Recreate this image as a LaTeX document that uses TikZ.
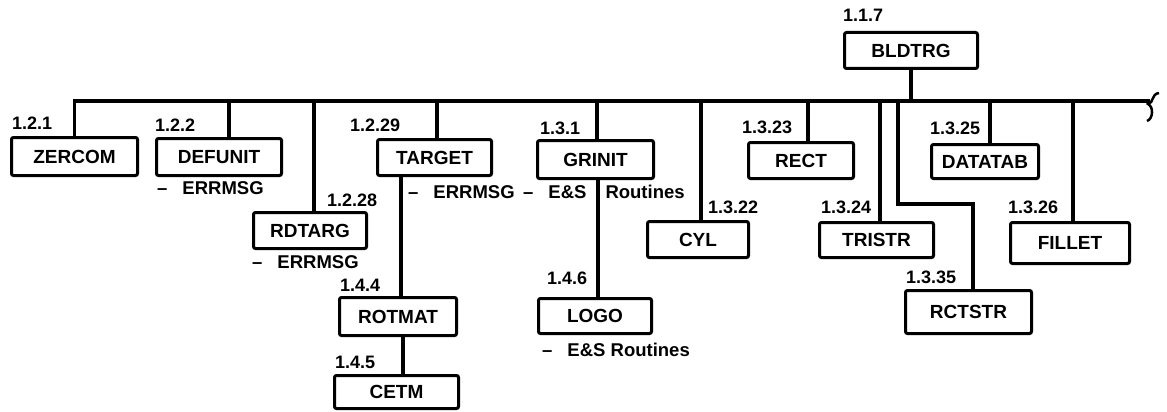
\documentclass[tikz,border=0pt]{standalone}
\usepackage{fontspec}
\setmainfont{Liberation Sans}
\begin{document}
\begin{tikzpicture}[x=1pt,y=-1pt,
  every node/.style={inner sep=0pt},
  box/.style={draw, line width=3pt, rounded corners=2pt, font=\fontsize{19}{21}\selectfont\bfseries},
  num/.style={anchor=west, font=\fontsize{18}{20}\selectfont\bfseries},
  note/.style={anchor=west, font=\fontsize{18.5}{20}\selectfont\bfseries},
  wire/.style={line width=3.2pt}]
\useasboundingbox (0,0) rectangle (1167,412);
% boxes
\node[box, minimum width=133pt, minimum height=36pt] (bldtrg) at (911,50.5) {BLDTRG};
\node[box, minimum width=126pt, minimum height=38pt] (zercom) at (74.5,156.5) {ZERCOM};
\node[box, minimum width=125pt, minimum height=37pt] (defunit) at (219,157) {DEFUNIT};
\node[box, minimum width=113pt, minimum height=36pt] (rdtarg) at (310,230.5) {RDTARG};
\node[box, minimum width=114pt, minimum height=36pt] (target) at (434.5,157.5) {TARGET};
\node[box, minimum width=116pt, minimum height=38pt] (grinit) at (595.5,159.5) {GRINIT};
\node[box, minimum width=117pt, minimum height=38pt] (rotmat) at (398,316.5) {ROTMAT};
\node[box, minimum width=124pt, minimum height=33pt] (cetm) at (396.5,392) {CETM};
\node[box, minimum width=113pt, minimum height=35pt] (logo) at (595,316) {LOGO};
\node[box, minimum width=101pt, minimum height=36pt] (cyl) at (698,239.5) {CYL};
\node[box, minimum width=105pt, minimum height=36pt] (rect) at (801,160.5) {RECT};
\node[box, minimum width=114pt, minimum height=35pt] (tristr) at (876.5,240) {TRISTR};
\node[box, minimum width=126pt, minimum height=43pt] (rctstr) at (968.5,312) {RCTSTR};
\node[box, minimum width=107pt, minimum height=34pt] (datatab) at (985,161.5) {DATATAB};
\node[box, minimum width=119pt, minimum height=41pt] (fillet) at (1070,243) {FILLET};
% numbers
\node[num] (n117) at (843,15) {1.1.7};
\node[num] (n121) at (12,123) {1.2.1};
\node[num] (n122) at (155,125) {1.2.2};
\node[num] (n1228) at (327,200) {1.2.28};
\node[num] (n1229) at (350,125) {1.2.29};
\node[num] (n131) at (540,128) {1.3.1};
\node[num] (n144) at (340,285) {1.4.4};
\node[num] (n145) at (335,362) {1.4.5};
\node[num] (n146) at (547,278) {1.4.6};
\node[num] (n1322) at (708,207) {1.3.22};
\node[num] (n1323) at (742,127) {1.3.23};
\node[num] (n1324) at (821,207) {1.3.24};
\node[num] (n1335) at (906,277) {1.3.35};
\node[num] (n1325) at (930,128) {1.3.25};
\node[num] (n1326) at (1008,207) {1.3.26};
% notes
\node[note] (e1) at (157,188) {--\hspace{15pt}ERRMSG};
\node[note] (e2) at (252,262) {--\hspace{15pt}ERRMSG};
\node[note] (e3) at (408,192) {--\hspace{15pt}ERRMSG};
\node[note] (e4) at (523,192) {--\hspace{15pt}E\&S\hspace{19pt}Routines};
\node[note] (e5) at (542,350) {--\hspace{15pt}E\&S Routines};
% bus
\coordinate (busL) at (74,101);
\coordinate (busR) at (1150,101);
\draw[wire] ([yshift=-1.5pt]zercom.north) |- (busR);
\draw[line width=2.5pt] (1159,93) .. controls (1151,94) and (1154,103) .. (1148,104)
  .. controls (1154,107) and (1153,119) .. (1147,121);
\draw[wire] (bldtrg.south) -- (bldtrg.south |- busL);
\draw[wire] ([xshift=10pt]defunit.north) -- ([xshift=10pt]defunit.north |- busL);
\draw[wire] ([xshift=4pt]rdtarg.north) -- ([xshift=4pt]rdtarg.north |- busL);
\draw[wire] ([xshift=2.5pt]target.north) -- ([xshift=2.5pt]target.north |- busL);
\draw[wire] ([xshift=1.5pt]grinit.north) -- ([xshift=1.5pt]grinit.north |- busL);
\draw[wire] ([xshift=3pt]cyl.north) -- ([xshift=3pt]cyl.north |- busL);
\draw[wire] ([xshift=7pt]rect.north) -- ([xshift=7pt]rect.north |- busL);
\draw[wire] ([xshift=3.5pt]tristr.north) -- ([xshift=3.5pt]tristr.north |- busL);
\draw[wire] ([xshift=5pt]datatab.north) -- ([xshift=5pt]datatab.north |- busL);
\draw[wire] ([xshift=3pt]fillet.north) -- ([xshift=3pt]fillet.north |- busL);
\coordinate (rcbend) at (898,204);
\draw[wire] (rcbend |- busL) -- (rcbend) -| ([xshift=4.5pt]rctstr.north);
% sub-connectors
\draw[wire] ([xshift=3pt]rotmat.north |- target.south) -- ([xshift=3pt]rotmat.north);
\draw[wire] ([xshift=5pt]rotmat.south) -- ([xshift=5pt]rotmat.south |- cetm.north);
\draw[wire] ([xshift=3pt]logo.north |- grinit.south) -- ([xshift=3pt]logo.north);
\end{tikzpicture}
\end{document}
